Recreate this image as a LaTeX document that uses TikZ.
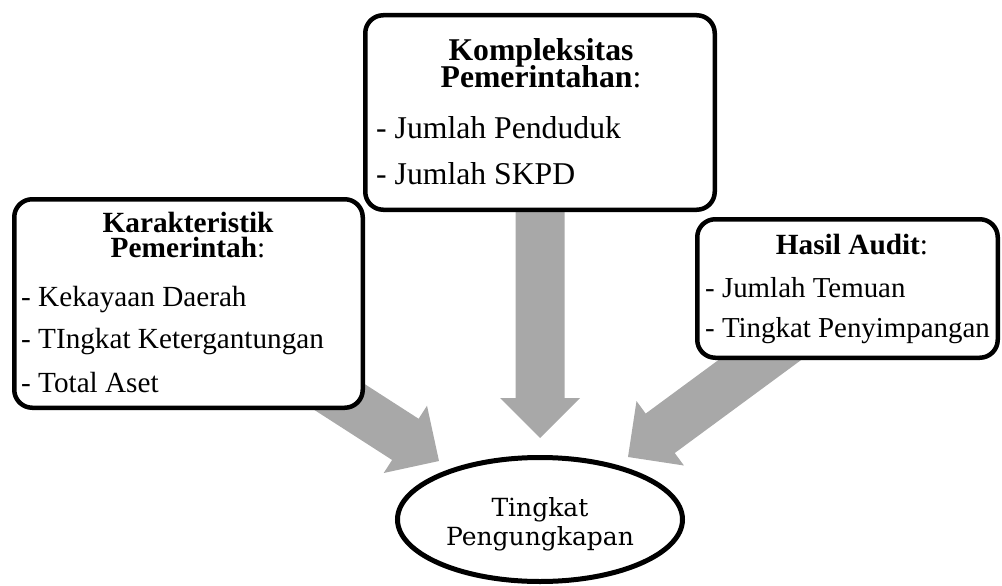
\documentclass[tikz,border=0pt]{standalone}
\usepackage{fontspec}
\setmainfont{Liberation Serif}
\newfontfamily\elfont{DejaVu Serif}
\usetikzlibrary{calc,shapes.geometric}
\definecolor{arrowgray}{RGB}{168,168,168}
\setlength{\lineskiplimit}{-100pt}
\newcommand{\fatarrow}[2]{%
  \path ($(#2)!40pt!(#1)$) coordinate (fab);
  \fill[arrowgray] (#2) -- ($(fab)!40pt!90:(#2)$) -- ($(fab)!24.5pt!90:(#2)$)
    -- ($(#1)!24.5pt!90:(#2)$) -- ($(#1)!24.5pt!-90:(#2)$)
    -- ($(fab)!24.5pt!-90:(#2)$) -- ($(fab)!40pt!-90:(#2)$) -- cycle;
}
\tikzset{
  box/.style={draw=black, line width=4.5pt, rounded corners=18pt, fill=white, rectangle, inner sep=0pt},
  ttl/.style={font=\fontsize{29.3}{25.5}\selectfont, inner sep=0pt, align=center},
  itm/.style={font=\fontsize{29.2}{32}\selectfont, inner sep=0pt, anchor=base west},
  itmr/.style={font=\fontsize{28.9}{32}\selectfont, inner sep=0pt, anchor=base west},
  ttlb/.style={font=\fontsize{31.7}{27}\selectfont, inner sep=0pt, align=center},
  itmb/.style={font=\fontsize{31.7}{34}\selectfont, inner sep=0pt, anchor=base west},
  ell/.style={draw=black, line width=5pt, ellipse, fill=white, inner sep=0pt},
  etx/.style={font=\elfont\fontsize{25}{29}\selectfont, inner sep=0pt, align=center}
}
\begin{document}
\begin{tikzpicture}[x=1pt,y=-1pt]
\useasboundingbox (0,0) rectangle (1002,586);
% arrow ends
\coordinate (ks) at (296,369);
\coordinate (kt) at (439,461);
\coordinate (ps) at (540,205);
\coordinate (pt) at (540,438);
\coordinate (hs) at (806,326);
\coordinate (ht) at (628,457);
\fatarrow{ks}{kt}
\fatarrow{ps}{pt}
\fatarrow{hs}{ht}
% boxes
\node[box, minimum width=348.5pt, minimum height=208.5pt] (kar) at (188.5,303.5) {};
\node[box, minimum width=349.5pt, minimum height=194.5pt] (kom) at (540,112.5) {};
\node[box, minimum width=300.5pt, minimum height=138.5pt] (has) at (847.5,288.5) {};
% left box text
\node[ttl, anchor=north] (k1) at (188,211.5) {\textbf{Karakteristik}\\\textbf{Pemerintah}:};
\node[itm] (k3) at (21,306) {- Kekayaan Daerah};
\node[itm] (k4) at (21,348) {- TIngkat Ketergantungan};
\node[itm] (k5) at (21,392) {- Total Aset};
% top box text
\node[ttlb, anchor=north] (p1) at (541,38.5) {\textbf{Kompleksitas}\\\textbf{Pemerintahan}:};
\node[itmb] (p3) at (376,138.5) {- Jumlah Penduduk};
\node[itmb] (p4) at (376,184) {- Jumlah SKPD};
% right box text
\node[ttl, anchor=base] (h1) at (852,254) {\textbf{Hasil Audit}:};
\node[itmr] (h2) at (705,297) {- Jumlah Temuan};
\node[itmr] (h3) at (705,337) {- Tingkat Penyimpangan};
% ellipse
\node[ell, minimum width=285pt, minimum height=124pt] (tp) at (540,519.5) {};
\node[etx, anchor=north] (t1) at (540,497.5) {Tingkat\\Pengungkapan};
\end{tikzpicture}
\end{document}
